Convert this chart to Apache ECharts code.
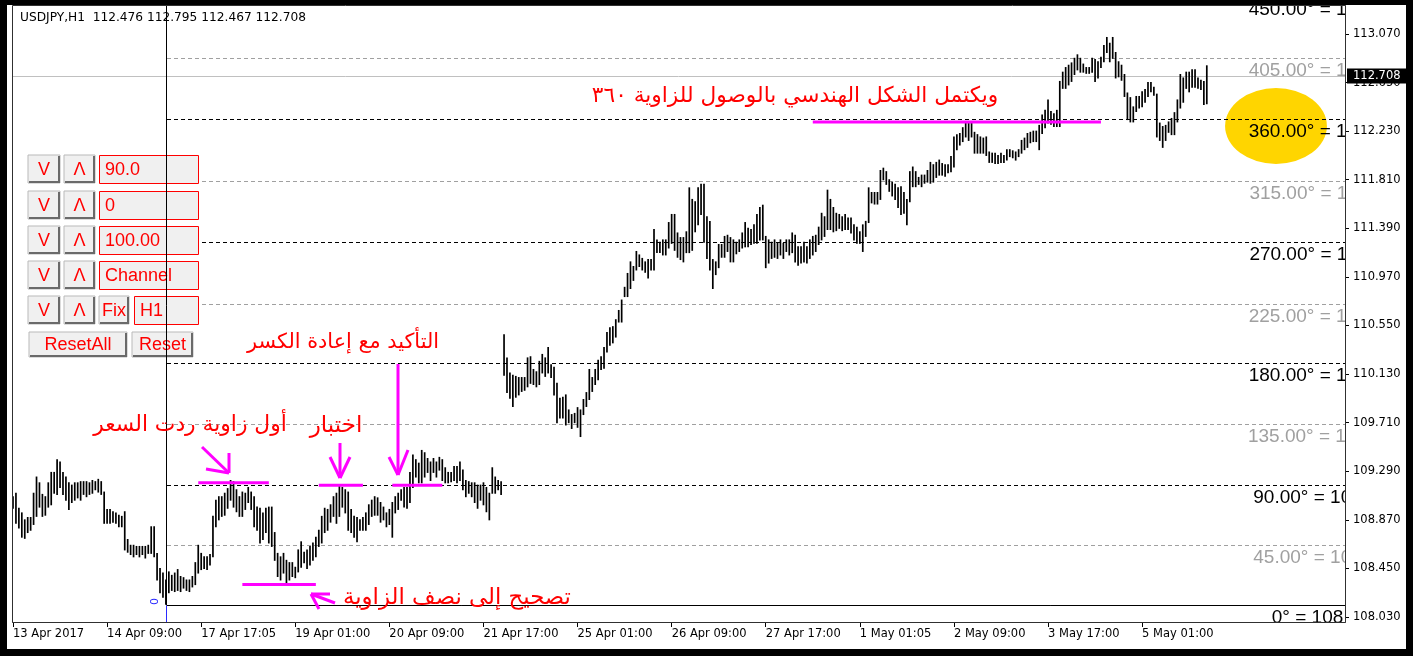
<!DOCTYPE html>
<html>
<head>
<meta charset="utf-8">
<title>USDJPY,H1</title>
<script src="https://cdn.jsdelivr.net/npm/echarts@6/dist/echarts.min.js"></script>
<style>
  html, body { margin: 0; padding: 0; background: #fff; }
  #chart { width: 1413px; height: 656px; }
</style>
</head>
<body>
<div id="chart"></div>
<script>
// hourly bars, 13 Apr 2017 -> 5 May 2017 (high / low of each bar)
var highs = [
  109.07,109.10,108.97,108.93,108.87,108.89,108.89,109.10,109.24,109.19,
  109.09,109.07,109.19,109.28,109.28,109.39,109.37,109.28,109.24,109.19,
  109.17,109.19,109.19,109.20,109.20,109.20,109.19,109.21,109.20,109.22,
  109.20,109.11,108.96,108.96,108.94,108.93,108.91,108.90,108.94,108.70,
  108.65,108.65,108.64,108.64,108.64,108.64,108.65,108.81,108.81,108.58,
  108.45,108.41,108.35,108.42,108.39,108.41,108.44,108.38,108.37,108.35,
  108.35,108.38,108.50,108.65,108.58,108.55,108.55,108.57,108.90,109.04,
  109.07,109.07,109.10,109.14,109.21,109.20,109.13,109.07,109.11,109.10,
  109.15,109.11,109.07,108.98,108.97,108.93,108.97,108.98,108.98,108.76,
  108.58,108.55,108.58,108.52,108.50,108.50,108.46,108.61,108.68,108.59,
  108.61,108.64,108.67,108.72,108.78,108.90,108.97,108.96,109.00,109.07,
  109.10,109.17,109.15,109.13,109.11,108.96,108.90,108.89,108.87,108.89,
  108.93,109.00,109.04,109.07,109.06,109.02,108.98,108.93,108.96,109.02,
  109.07,109.10,109.13,109.15,109.15,109.28,109.43,109.39,109.36,109.47,
  109.45,109.40,109.37,109.40,109.37,109.41,109.39,109.32,109.28,109.28,
  109.33,109.33,109.37,109.30,109.21,109.20,109.19,109.19,109.17,109.17,
  109.19,109.15,109.10,109.32,109.24,109.21,109.20,110.47,110.27,110.14,
  110.12,110.11,110.10,110.10,110.10,110.27,110.28,110.17,110.15,110.24,
  110.30,110.27,110.36,110.21,110.19,110.05,109.92,109.93,109.95,109.82,
  109.78,109.79,109.84,109.82,109.91,109.97,110.17,110.10,110.17,110.25,
  110.28,110.36,110.49,110.53,110.54,110.60,110.68,110.77,110.88,111.00,
  111.10,111.06,111.19,111.16,111.13,111.10,111.12,111.12,111.38,111.29,
  111.27,111.29,111.29,111.44,111.51,111.51,111.35,111.31,111.31,111.36,
  111.74,111.64,111.62,111.74,111.77,111.77,111.49,111.45,111.12,111.10,
  111.25,111.25,111.32,111.33,111.31,111.29,111.27,111.29,111.35,111.44,
  111.39,111.38,111.42,111.51,111.57,111.59,111.32,111.29,111.27,111.29,
  111.26,111.29,111.26,111.29,111.29,111.35,111.33,111.23,111.23,111.27,
  111.23,111.29,111.32,111.33,111.40,111.52,111.49,111.72,111.64,111.57,
  111.52,111.51,111.49,111.51,111.48,111.48,111.42,111.40,111.36,111.42,
  111.45,111.74,111.70,111.70,111.70,111.89,111.91,111.88,111.81,111.79,
  111.77,111.74,111.75,111.70,111.64,111.88,111.92,111.88,111.83,111.85,
  111.85,111.89,111.96,111.94,111.96,111.98,111.95,111.94,111.94,112.01,
  112.18,112.20,112.21,112.26,112.31,112.30,112.30,112.22,112.20,112.18,
  112.17,112.18,112.05,112.04,112.04,112.02,112.04,112.02,112.07,112.07,
  112.06,112.05,112.07,112.15,112.17,112.21,112.22,112.23,112.23,112.28,
  112.37,112.41,112.50,112.40,112.38,112.41,112.66,112.74,112.78,112.80,
  112.82,112.86,112.89,112.86,112.81,112.78,112.78,112.86,112.85,112.83,
  112.87,112.97,113.04,112.99,113.04,112.91,112.83,112.80,112.72,112.56,
  112.52,112.44,112.53,112.53,112.57,112.59,112.65,112.65,112.61,112.55,
  112.30,112.27,112.28,112.31,112.34,112.39,112.50,112.72,112.69,112.74,
  112.74,112.76,112.76,112.69,112.67,112.66,112.795
];
var lows = [
  108.97,108.84,108.80,108.72,108.71,108.76,108.78,108.83,108.90,108.98,
  108.90,108.91,108.98,109.00,109.10,109.09,109.15,109.09,109.04,108.96,
  109.02,109.04,109.06,109.04,109.09,109.07,109.09,109.10,109.13,109.11,
  109.09,108.84,108.84,108.84,108.85,108.84,108.81,108.81,108.61,108.59,
  108.57,108.55,108.57,108.55,108.57,108.54,108.58,108.58,108.55,108.35,
  108.24,108.20,108.14,108.24,108.26,108.25,108.26,108.25,108.28,108.26,
  108.25,108.29,108.31,108.41,108.44,108.45,108.44,108.48,108.55,108.81,
  108.87,108.90,108.91,108.97,109.04,108.98,108.94,108.90,108.90,108.96,
  109.02,108.96,108.81,108.78,108.67,108.70,108.76,108.67,108.64,108.52,
  108.38,108.35,108.41,108.31,108.35,108.38,108.37,108.42,108.46,108.50,
  108.45,108.48,108.52,108.55,108.64,108.67,108.76,108.78,108.85,108.90,
  108.84,108.90,108.98,108.93,108.78,108.76,108.72,108.68,108.78,108.78,
  108.78,108.83,108.90,108.91,108.91,108.85,108.87,108.81,108.83,108.72,
  108.93,108.96,109.04,108.98,108.97,109.02,109.15,109.24,109.19,109.19,
  109.24,109.28,109.21,109.28,109.24,109.30,109.21,109.19,109.19,109.20,
  109.21,109.19,109.21,109.13,109.07,109.10,109.07,109.02,108.97,109.04,
  109.00,108.94,108.87,109.10,109.10,109.13,109.09,110.12,109.97,109.92,
  109.85,109.93,109.95,109.98,109.99,110.02,110.05,110.04,110.02,110.04,
  110.14,110.11,110.14,110.10,109.95,109.71,109.75,109.75,109.69,109.71,
  109.66,109.71,109.67,109.59,109.78,109.85,109.91,109.98,110.04,110.08,
  110.17,110.18,110.32,110.38,110.40,110.45,110.58,110.58,110.80,110.80,
  110.87,110.94,111.03,111.06,111.03,111.01,110.96,111.03,111.03,111.18,
  111.18,111.16,111.16,111.22,111.26,111.20,111.14,111.12,111.10,111.18,
  111.18,111.20,111.36,111.42,111.51,111.27,111.13,111.03,110.87,110.99,
  111.05,111.14,111.14,111.19,111.10,111.10,111.17,111.19,111.22,111.23,
  111.23,111.25,111.26,111.26,111.29,111.29,111.05,111.09,111.13,111.14,
  111.13,111.16,111.13,111.19,111.16,111.18,111.10,111.07,111.09,111.10,
  111.09,111.13,111.16,111.19,111.25,111.29,111.32,111.38,111.38,111.36,
  111.37,111.39,111.37,111.38,111.38,111.35,111.29,111.26,111.26,111.19,
  111.32,111.44,111.61,111.60,111.60,111.64,111.81,111.77,111.71,111.67,
  111.64,111.57,111.51,111.52,111.42,111.62,111.75,111.75,111.77,111.75,
  111.78,111.79,111.78,111.79,111.83,111.85,111.85,111.84,111.87,111.88,
  111.92,112.07,112.11,112.14,112.18,112.15,112.18,112.04,112.04,112.04,
  112.04,112.02,111.96,111.96,111.95,111.95,111.96,111.96,111.98,112.01,
  112.00,111.98,112.01,112.04,112.07,112.09,112.13,112.14,112.14,112.07,
  112.21,112.26,112.30,112.29,112.27,112.27,112.27,112.60,112.60,112.63,
  112.66,112.72,112.76,112.74,112.74,112.73,112.73,112.74,112.66,112.69,
  112.78,112.83,112.91,112.83,112.86,112.69,112.70,112.67,112.53,112.33,
  112.31,112.31,112.40,112.43,112.44,112.48,112.53,112.57,112.54,112.18,
  112.15,112.09,112.15,112.22,112.20,112.20,112.31,112.43,112.48,112.60,
  112.57,112.61,112.61,112.60,112.59,112.46,112.467
];
var lastBar = [112.476, 112.795, 112.467, 112.708]; // O H L C

var dateLabels = ['13 Apr 2017', '14 Apr 09:00', '17 Apr 17:05', '19 Apr 01:00', '20 Apr 09:00',
  '21 Apr 17:00', '25 Apr 01:00', '26 Apr 09:00', '27 Apr 17:00', '1 May 01:05',
  '2 May 09:00', '3 May 17:00', '5 May 01:00'];
var labelStep = 32;
var slotCount = 454;

var priceMin = 108.030, priceMax = 113.312, priceStep = 0.42;

// gann levels, anchored on the low bar
var anchorBar = 52;
var gannDegrees = [0, 45, 90, 135, 180, 225, 270, 315, 360, 405, 450];
var gannPrices = [108.134, 108.653, 109.171, 109.696, 110.222, 110.736, 111.269, 111.795, 112.331, 112.860, 113.386];

// magenta marks: from bar, to bar, price
var markFrom = [63, 104, 129, 78, 272];
var markTo = [87, 119, 146, 103, 370];
var markPrice = [109.19, 109.17, 109.17, 108.31, 112.31];

var RED = '#ff0000', PINK = '#ff00ff';
var AXIS_FONT = 'DejaVu Sans';

var slots = [];
for (var s = 0; s < slotCount; s++) slots.push(String(s));
function isLabelSlot(i) { return i % labelStep === 0 && i / labelStep < dateLabels.length; }

var chart = echarts.init(document.getElementById('chart'));

// ---- panel of buttons (top left) ----
var panel = [];
function btn(x, y, w, h, label) {
  panel.push({ type: 'rect', z: 20, shape: { x: x, y: y, width: w, height: h }, style: { fill: '#f0f0f0', stroke: '#b9b9b9', lineWidth: 1 } });
  panel.push({ type: 'polyline', z: 21, shape: { points: [[x + 1, y + h - 1], [x + w - 1, y + h - 1], [x + w - 1, y + 1]] }, style: { stroke: '#6a6a6a', lineWidth: 2, fill: null } });
  panel.push({ type: 'text', z: 22, x: x + w / 2, y: y + h / 2 + 1, style: { text: label, fill: RED, font: '18px "Liberation Sans"', textAlign: 'center', align: 'center', textVerticalAlign: 'middle', verticalAlign: 'middle' } });
}
function box(x, y, w, h, label) {
  panel.push({ type: 'rect', z: 20, shape: { x: x + 0.5, y: y + 0.5, width: w, height: h }, style: { fill: '#f0f0f0', stroke: RED, lineWidth: 1 } });
  panel.push({ type: 'text', z: 22, x: x + 6, y: y + h / 2 + 1, style: { text: label, fill: RED, font: '18px "Liberation Sans"', textAlign: 'left', align: 'left', textVerticalAlign: 'middle', verticalAlign: 'middle' } });
}
var rowTop = [155, 191, 226, 261, 296];
var boxText = ['90.0', '0', '100.00', 'Channel'];
rowTop.forEach(function (y, r) {
  btn(28, y, 32, 28, 'V');
  btn(64, y, 31, 28, 'Λ');
  if (r < 4) box(99, y, 99, 28, boxText[r]);
});
btn(99, 296, 30, 28, 'Fix');
box(134, 296, 64, 28, 'H1');
btn(29, 332, 98, 25, 'ResetAll');
btn(132, 332, 61, 25, 'Reset');

// ---- hand drawn notes ----
var notes = [
  // yellow highlight behind the 360 label
  { type: 'circle', z: 0, x: 1276, y: 126, scaleX: 1.34, scaleY: 1, shape: { cx: 0, cy: 0, r: 38 }, style: { fill: '#ffd500' } }
];
function note(x, y, size, text) {
  notes.push({ type: 'text', z: 40, x: x, y: y, style: { text: text, fill: RED, font: size + 'px "DejaVu Sans"', textAlign: 'center', align: 'center', textVerticalAlign: 'middle', verticalAlign: 'middle' } });
}
function stroke(x1, y1, x2, y2) {
  notes.push({ type: 'line', z: 40, shape: { x1: x1, y1: y1, x2: x2, y2: y2 }, style: { stroke: PINK, lineWidth: 3 } });
}
note(795, 96, 21.7, 'ويكتمل الشكل الهندسي بالوصول للزاوية ٣٦٠');
note(343, 343, 20.8, 'التأكيد مع إعادة الكسر');
note(190, 425, 21.8, 'أول زاوية ردت السعر');
note(336, 426, 23, 'اختبار');
note(457, 598, 22.8, 'تصحيح إلى نصف الزاوية');
stroke(202, 447, 229, 473); stroke(229, 473, 229, 453); stroke(229, 473, 206, 469);
stroke(340, 443, 340, 478); stroke(340, 478, 330, 457); stroke(340, 478, 350, 457);
stroke(398, 364, 398, 475); stroke(398, 475, 389, 457); stroke(398, 475, 408, 450);
stroke(311, 594, 335, 603); stroke(311, 594, 330, 594); stroke(311, 594, 319, 609);

// ---- window frame ----
var frame = [
  { type: 'rect', z: 60, shape: { x: 12.5, y: 5.5, width: 1333, height: 617 }, style: { fill: null, stroke: '#303030', lineWidth: 1 } },
  { type: 'rect', z: 61, shape: { x: 0, y: 0, width: 1413, height: 5 }, style: { fill: '#000' } },
  { type: 'rect', z: 61, shape: { x: 0, y: 0, width: 7, height: 656 }, style: { fill: '#000' } },
  { type: 'rect', z: 61, shape: { x: 1406, y: 0, width: 7, height: 656 }, style: { fill: '#000' } },
  { type: 'rect', z: 61, shape: { x: 0, y: 649, width: 1413, height: 7 }, style: { fill: '#000' } },
  { type: 'text', z: 62, x: 20, y: 18, style: { text: 'USDJPY,H1  ' + lastBar.map(function (v) { return v.toFixed(3); }).join(' '), fill: '#000', font: '12.2px "DejaVu Sans"', textAlign: 'left', align: 'left', textVerticalAlign: 'middle', verticalAlign: 'middle' } }
];

chart.setOption({
  animation: false,
  grid: { left: 13, right: 68, top: 6, bottom: 39 },
  xAxis: {
    type: 'category',
    data: slots,
    boundaryGap: false,
    offset: 5,
    axisLine: { show: true, lineStyle: { color: '#000' } },
    axisTick: { show: true, length: 5, interval: function (i) { return isLabelSlot(i); }, lineStyle: { color: '#000' } },
    axisLabel: {
      interval: function (i) { return isLabelSlot(i); },
      formatter: function (v, i) { return dateLabels[i / labelStep] || ''; },
      align: 'left', margin: 6, color: '#000', fontFamily: AXIS_FONT, fontSize: 11.5
    },
    splitLine: { show: false }
  },
  yAxis: {
    type: 'value',
    position: 'right',
    min: priceMin, max: priceMax, interval: priceStep,
    axisLine: { show: true, lineStyle: { color: '#000' } },
    axisTick: { show: true, length: 4, lineStyle: { color: '#000' } },
    axisLabel: {
      formatter: function (v) { return v.toFixed(3); },
      showMaxLabel: false, margin: 8, color: '#000', fontFamily: AXIS_FONT, fontSize: 11.5
    },
    splitLine: { show: false }
  },
  graphic: { elements: panel.concat(notes, frame) },
  series: [
    {
      // gann levels with their labels, clipped at the price scale
      type: 'custom', name: 'levels', z: 1, silent: true,
      data: gannPrices.map(function (p, k) { return [anchorBar, p, gannDegrees[k]]; }),
      encode: { x: 0, y: 1 },
      renderItem: function (params, api) {
        var cs = params.coordSys;
        var price = api.value(1), deg = api.value(2);
        var p = api.coord([api.value(0), price]);
        var right = cs.x + cs.width;
        var col = deg % 90 === 0 ? '#000' : '#a0a0a0';
        var y = Math.round(p[1]) + 0.5;
        var txt = (deg === 0 ? '0' : deg.toFixed(2)) + '° = ' + price.toFixed(3);
        var line = { type: 'line', shape: { x1: Math.round(p[0]) + 1, y1: y, x2: right, y2: y }, style: { stroke: col, lineWidth: 1 } };
        if (deg !== 0) line.style.lineDash = [4, 3];
        return {
          type: 'group',
          clipPath: { type: 'rect', shape: { x: cs.x, y: 0, width: cs.width, height: cs.y + cs.height + 6 } },
          children: [
            line,
            { type: 'text', x: right - 19, y: y + 12, style: { text: txt, fill: col, font: '19px "Liberation Sans"', textAlign: 'center', align: 'center', textVerticalAlign: 'middle', verticalAlign: 'middle' } }
          ]
        };
      }
    },
    {
      // bid line and its price tag
      type: 'custom', name: 'bid', z: 1, silent: true,
      data: [[0, lastBar[3]]],
      encode: { x: 0, y: 1 },
      renderItem: function (params, api) {
        var cs = params.coordSys;
        var p = api.coord([0, api.value(1)]);
        var y = Math.round(p[1]) + 0.5;
        var right = cs.x + cs.width;
        return {
          type: 'group',
          children: [
            { type: 'line', shape: { x1: cs.x - 1, y1: y, x2: right, y2: y }, style: { stroke: '#c0c0c0', lineWidth: 1 } },
            { type: 'rect', shape: { x: right + 2, y: y - 8, width: 60, height: 15 }, style: { fill: '#000' } },
            { type: 'text', x: right + 8, y: y, style: { text: api.value(1).toFixed(3), fill: '#fff', font: '11.5px "DejaVu Sans"', textAlign: 'left', align: 'left', textVerticalAlign: 'middle', verticalAlign: 'middle' } }
          ]
        };
      }
    },
    {
      type: 'custom', name: 'USDJPY,H1', z: 3, silent: true,
      data: highs.map(function (h, i) { return [i, lows[i], h]; }),
      encode: { x: 0, y: [1, 2] },
      renderItem: function (params, api) {
        var lo = api.coord([api.value(0), api.value(1)]);
        var hi = api.coord([api.value(0), api.value(2)]);
        return { type: 'line', shape: { x1: lo[0], y1: lo[1] + 0.5, x2: hi[0], y2: hi[1] - 0.5 }, style: { stroke: '#000', lineWidth: 1.7 } };
      }
    },
    {
      type: 'custom', name: 'marks', z: 30, silent: true,
      data: markPrice.map(function (p, k) { return [markFrom[k], markTo[k], p]; }),
      encode: { x: [0, 1], y: 2 },
      renderItem: function (params, api) {
        var a = api.coord([api.value(0), api.value(2)]);
        var b = api.coord([api.value(1), api.value(2)]);
        return { type: 'line', shape: { x1: a[0], y1: a[1], x2: b[0], y2: b[1] }, style: { stroke: PINK, lineWidth: 3 } };
      }
    },
    {
      // vertical anchor line through the low bar
      type: 'custom', name: 'anchor', z: 35, silent: true,
      data: [[anchorBar, gannPrices[0]]],
      encode: { x: 0, y: 1 },
      renderItem: function (params, api) {
        var cs = params.coordSys;
        var p = api.coord([api.value(0), api.value(1)]);
        var x = Math.round(p[0]) + 0.5;
        var y = Math.round(p[1]) + 0.5;
        return {
          type: 'group',
          children: [
            { type: 'line', shape: { x1: x, y1: cs.y, x2: x, y2: y }, style: { stroke: '#000', lineWidth: 1 } },
            { type: 'line', shape: { x1: Math.round(p[0]) + 1, y1: y, x2: cs.x + cs.width, y2: y }, style: { stroke: '#000', lineWidth: 1 } },
            { type: 'line', shape: { x1: x, y1: y, x2: x, y2: cs.y + cs.height + 5 }, style: { stroke: '#2a2aff', lineWidth: 1 } },
            { type: 'text', x: x - 11, y: y - 4, rotation: Math.PI / 2, style: { text: '0', fill: '#2a2aff', font: '11px "DejaVu Sans"', textAlign: 'center', align: 'center', textVerticalAlign: 'middle', verticalAlign: 'middle' } }
          ]
        };
      }
    }
  ]
});
</script>
</body>
</html>
